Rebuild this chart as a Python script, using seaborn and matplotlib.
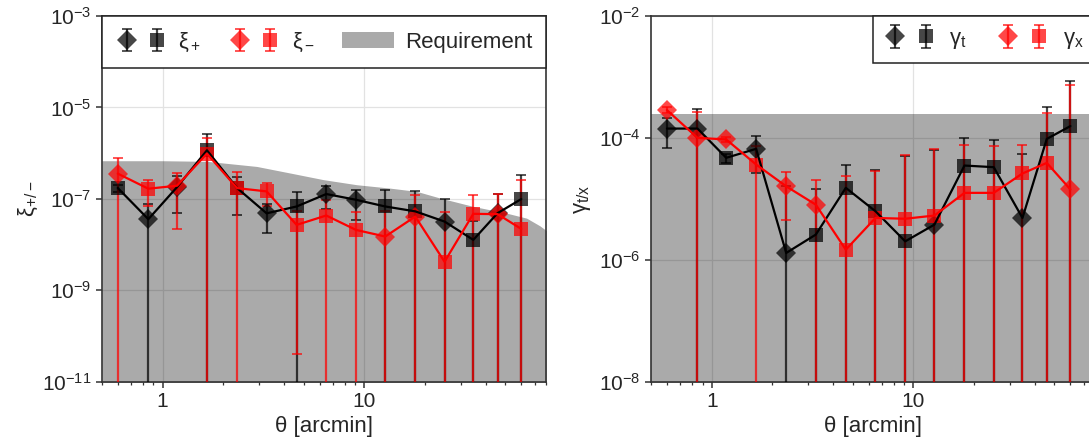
import numpy as np
import pandas as pd
import matplotlib
matplotlib.use("Agg")
import matplotlib.pyplot as plt
import seaborn as sns
from matplotlib.legend_handler import HandlerTuple
from matplotlib.ticker import NullFormatter, NullLocator

# ---------------- data (signed: negative values are drawn as diamonds) -------------
theta = [0.60, 0.85, 1.18, 1.66, 2.34, 3.28, 4.62, 6.48, 9.1, 12.7, 17.9, 25.0, 34.7, 45.8, 60.0]

xi_plus = [1.72e-7, -3.57e-8, -1.8e-7, 1.15e-6, 1.72e-7, -4.8e-8, 6.78e-8, -1.27e-7,
           -9.5e-8, 6.78e-8, 5.3e-8, -3.17e-8, 1.26e-8, -4.84e-8, 9.85e-8]
xi_plus_err = [3e-8, 4e-8, 1.3e-7, 1.5e-6, 1.27e-7, 3e-8, 7e-8, 6.6e-8,
               6e-8, 8.4e-8, 9.2e-8, 6.8e-8, 2e-8, 8e-8, 2.39e-7]

xi_minus = [-3.55e-7, 1.66e-7, -1.93e-7, 9.75e-7, 1.71e-7, 1.45e-7, 2.68e-8, 4.3e-8,
            2.08e-8, -1.49e-8, -4.08e-8, 4.19e-9, 4.68e-8, -4.6e-8, 2.19e-8]
xi_minus_err = [4.1e-7, 9.5e-8, 1.71e-7, 1.2e-6, 2.1e-7, 7.6e-8, 2.676e-8, 5e-8,
                3e-8, 4e-8, 8.1e-8, 4.6e-8, 7.6e-8, 8.3e-8, 2.4e-7]

req_xi_theta = [0.5, 1.0, 1.66, 2.93, 4.29, 6.27, 9.17, 13.4, 18.2, 23.7, 34.7, 50.8, 63.8, 74.3, 80.0]
req_xi = [6.8e-7, 6.8e-7, 6.6e-7, 5.1e-7, 3.66e-7, 2.62e-7, 2.03e-7, 1.71e-7, 1.45e-7,
          1.04e-7, 6.8e-8, 4.84e-8, 3.76e-8, 2.55e-8, 2.0e-8]

gamma_t = [-1.42e-4, -1.42e-4, 4.7e-5, -6.6e-5, -1.29e-6, 2.58e-6, 1.51e-5, 6.24e-6,
           2.0e-6, -3.76e-6, 3.51e-5, 3.3e-5, -4.84e-6, 9.6e-5, 1.56e-4]
gamma_t_err = [7.3e-5, 1.6e-4, 8e-6, 4e-5, 1.5e-5, 1.2e-5, 2.1e-5, 2.3e-5,
               4.9e-5, 6e-5, 6.5e-5, 5.9e-5, 5e-5, 2.2e-4, 7e-4]

gamma_x = [-2.85e-4, -1.0e-4, -9.4e-5, 3.65e-5, -1.6e-5, -8.0e-6, 1.46e-6, 4.84e-6,
           4.7e-6, 5.3e-6, 1.25e-5, 1.25e-5, 2.6e-5, 3.88e-5, -1.42e-5]
gamma_x_err = [3e-5, 1.64e-4, 8e-6, 3.8e-5, 1.16e-5, 1.2e-5, 2.2e-5, 2.4e-5,
               4.7e-5, 6e-5, 6.5e-5, 6e-5, 5e-5, 2.2e-4, 7.1e-4]

req_gamma_theta = [0.5, 80.0]
req_gamma = [2.42e-4, 2.42e-4]

xi_yticks = [1e-11, 1e-9, 1e-7, 1e-5, 1e-3]
gamma_yticks = [1e-8, 1e-6, 1e-4, 1e-2]
x_ticks = [1, 10]
x_ticklabels = ["1", "10"]

# ---------------- style ----------------
sns.set_style("ticks")
plt.rcParams["font.family"] = ["Liberation Sans", "DejaVu Sans"]
plt.rcParams["mathtext.fontset"] = "custom"
plt.rcParams["mathtext.rm"] = "Liberation Sans"
plt.rcParams["mathtext.it"] = "Liberation Sans:italic"
plt.rcParams["mathtext.bf"] = "Liberation Sans:bold"
plt.rcParams["mathtext.default"] = "regular"
plt.rcParams["axes.edgecolor"] = "#333333"
plt.rcParams["axes.linewidth"] = 1.2

TICK_FS = 15
LABEL_FS = 16
LEG_FS = 16

fig = plt.figure(figsize=(10.89, 4.46), dpi=100)
axL = fig.add_axes([0.0935, 0.1446, 0.4083, 0.8195])
axR = fig.add_axes([0.5978, 0.1446, 0.4083, 0.8195])


def draw_series(ax, th, vals, errs, color):
    th = np.asarray(th)
    vals = np.asarray(vals)
    errs = np.asarray(errs)
    mag = np.abs(vals)
    df = pd.DataFrame({"theta": th, "value": mag})
    sns.lineplot(data=df, x="theta", y="value", color=color, lw=1.6, ax=ax,
                 sort=False, estimator=None, legend=False, zorder=4)
    neg = vals < 0
    common = dict(color=color, alpha=0.72, capsize=3.5, elinewidth=1.6, capthick=1.3,
                  linestyle="none", zorder=3)
    ed = ax.errorbar(th[neg], mag[neg], yerr=errs[neg], fmt="D", ms=10.5, **common)
    es = ax.errorbar(th[~neg], mag[~neg], yerr=errs[~neg], fmt="s", ms=10, **common)
    for c in (ed, es):
        c.lines[0].set_markeredgewidth(0)
    return (ed, es)


def style_axes(ax, yticks, ylim):
    ax.set_xscale("log")
    ax.set_yscale("log")
    ax.set_xlim(0.5, 80)
    ax.set_ylim(*ylim)
    ax.set_xticks(x_ticks)
    ax.set_xticklabels(x_ticklabels)
    ax.xaxis.set_minor_formatter(NullFormatter())
    ax.set_yticks(yticks)
    ax.yaxis.set_minor_locator(NullLocator())
    ax.grid(True, which="major", color="#e2e2e2", lw=0.9)
    ax.set_axisbelow(True)
    ax.tick_params(axis="both", which="major", labelsize=TICK_FS, length=4.5, width=1.1,
                   direction="out", color="#333333", pad=3)
    ax.tick_params(axis="x", which="minor", length=2.5, width=0.9, color="#333333")
    for s in ax.spines.values():
        s.set_visible(True)
        s.set_color("#333333")
        s.set_linewidth(1.2)
    ax.set_xlabel("θ [arcmin]", fontsize=LABEL_FS, labelpad=4)


# ---------------- left panel: xi ----------------
style_axes(axL, xi_yticks, (1e-11, 1e-3))
fill = axL.fill_between(req_xi_theta, 1e-13, req_xi, color="black", alpha=0.335, lw=0,
                        zorder=1, label="Requirement")
hp = draw_series(axL, theta, xi_plus, xi_plus_err, "black")
hm = draw_series(axL, theta, xi_minus, xi_minus_err, "red")
axL.set_ylabel(r"$ξ_{+/-}$", fontsize=LABEL_FS, labelpad=1.5)
legL = axL.legend([hp, hm, fill], [r"$ξ_+$", r"$ξ_-$", "Requirement"],
                  handler_map={tuple: HandlerTuple(ndivide=None, pad=0.45)},
                  loc="upper left", bbox_to_anchor=(0, 1, 1, 0), mode="expand",
                  ncol=3, borderaxespad=0, fontsize=LEG_FS, fancybox=False,
                  edgecolor="#222222", framealpha=1, handlelength=2.3,
                  handletextpad=0.5, columnspacing=1.0, borderpad=0.65)
legL.get_frame().set_linewidth(1.1)
legL.set_zorder(10)

# ---------------- right panel: gamma ----------------
style_axes(axR, gamma_yticks, (1e-8, 1e-2))
axR.fill_between(req_gamma_theta, 1e-10, req_gamma, color="black", alpha=0.335, lw=0, zorder=1)
ht = draw_series(axR, theta, gamma_t, gamma_t_err, "black")
hx = draw_series(axR, theta, gamma_x, gamma_x_err, "red")
axR.set_ylabel(r"$γ_{t/x}$", fontsize=LABEL_FS, labelpad=4)
legR = axR.legend([ht, hx], [r"$γ_t$", r"$γ_x$"],
                  handler_map={tuple: HandlerTuple(ndivide=None, pad=0.45)},
                  loc="upper right", ncol=2, borderaxespad=0, fontsize=LEG_FS,
                  fancybox=False, edgecolor="#222222", framealpha=1, handlelength=2.3,
                  handletextpad=0.6, columnspacing=1.4, borderpad=0.55)
legR.get_frame().set_linewidth(1.1)
legR.set_zorder(10)

fig.savefig("out.png", dpi=100)
